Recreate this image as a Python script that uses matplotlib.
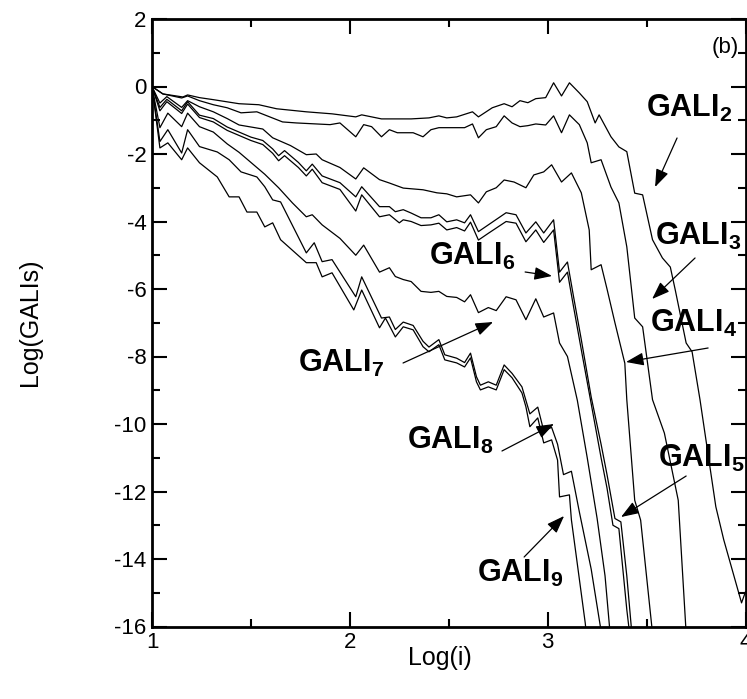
import matplotlib.pyplot as plt
from matplotlib.ticker import MultipleLocator

plt.rcParams['font.family'] = ['Liberation Sans', 'DejaVu Sans']
plt.rcParams['mathtext.fontset'] = 'custom'
plt.rcParams['mathtext.rm'] = 'Liberation Sans'
plt.rcParams['mathtext.bf'] = 'Liberation Sans:bold'
plt.rcParams['axes.unicode_minus'] = False

# log10(GALI_k) against log10(i)
gali2_x = [1.00, 1.055, 1.156, 1.18, 1.24, 1.31, 1.44, 1.54, 1.63, 1.78, 1.91, 2.03, 2.06, 2.16, 2.31,
           2.40, 2.45, 2.49, 2.54, 2.62, 2.65, 2.72, 2.78, 2.82, 2.86, 2.90, 2.94, 2.99, 3.03, 3.07,
           3.11, 3.16, 3.20, 3.24, 3.26, 3.32, 3.36, 3.40, 3.44, 3.48, 3.53, 3.58, 3.62, 3.645, 3.70,
           3.73, 3.77, 3.85, 3.89, 3.98, 4.00]
gali2_y = [0.0, -0.22, -0.31, -0.25, -0.33, -0.39, -0.51, -0.54, -0.66, -0.75, -0.81, -0.90, -0.84, -0.96, -0.96,
           -0.93, -0.87, -0.93, -0.90, -0.75, -0.90, -0.63, -0.51, -0.60, -0.42, -0.48, -0.36, -0.33, 0.11, -0.28,
           0.11, -0.19, -0.45, -1.08, -0.84, -1.49, -1.79, -1.93, -3.16, -3.21, -4.54, -5.08, -5.35, -6.03, -7.60,
           -7.86, -9.28, -12.45, -13.43, -15.30, -14.97]

gali3_x = [1.00, 1.055, 1.15, 1.18, 1.24, 1.31, 1.38, 1.45, 1.53, 1.66, 1.73, 1.90, 1.95, 2.03, 2.07,
           2.11, 2.16, 2.20, 2.24, 2.32, 2.37, 2.41, 2.45, 2.58, 2.62, 2.65, 2.69, 2.74, 2.78, 2.82,
           2.86, 2.90, 2.94, 2.99, 3.03, 3.07, 3.11, 3.16, 3.20, 3.22, 3.27, 3.32, 3.36, 3.40, 3.44,
           3.48, 3.53, 3.59, 3.66, 3.70]
gali3_y = [0.0, -0.22, -0.34, -0.28, -0.42, -0.54, -0.63, -0.78, -0.75, -1.05, -1.08, -1.13, -1.08, -1.49, -1.13,
           -1.19, -1.49, -1.28, -1.37, -1.37, -1.49, -1.28, -1.22, -1.22, -1.11, -1.52, -1.28, -1.19, -0.87, -1.08,
           -1.19, -1.16, -1.11, -1.14, -0.87, -1.37, -0.84, -1.13, -1.67, -2.26, -2.17, -2.98, -3.45, -4.75, -6.86,
           -7.12, -9.28, -10.27, -12.26, -16.2]

gali4_x = [1.00, 1.04, 1.075, 1.15, 1.18, 1.24, 1.31, 1.38, 1.44, 1.50, 1.56, 1.61, 1.70, 1.78, 1.83,
           1.86, 1.95, 2.03, 2.07, 2.15, 2.20, 2.27, 2.37, 2.44, 2.49, 2.54, 2.61, 2.65, 2.69, 2.74,
           2.78, 2.83, 2.89, 2.93, 2.98, 3.02, 3.07, 3.12, 3.17, 3.21, 3.22, 3.27, 3.30, 3.34, 3.39,
           3.40, 3.44, 3.47, 3.53]
gali4_y = [0.0, -0.49, -0.30, -0.62, -0.42, -0.60, -0.75, -0.95, -1.14, -1.20, -1.26, -1.52, -1.75, -2.02, -2.00,
           -2.17, -2.40, -2.74, -2.41, -2.76, -2.86, -3.01, -3.06, -3.15, -3.18, -3.27, -3.21, -3.45, -3.12, -3.00,
           -2.77, -2.83, -3.00, -2.62, -2.53, -2.32, -2.83, -2.56, -3.15, -4.25, -5.43, -5.28, -6.00, -7.00, -8.20,
           -9.28, -12.26, -12.85, -16.2]

gali5_x = [1.00, 1.04, 1.075, 1.15, 1.18, 1.24, 1.31, 1.38, 1.44, 1.50, 1.56, 1.61, 1.64, 1.67, 1.74,
           1.78, 1.81, 1.86, 1.95, 2.03, 2.06, 2.15, 2.20, 2.23, 2.27, 2.31, 2.36, 2.41, 2.45, 2.49,
           2.54, 2.58, 2.61, 2.65, 2.70, 2.79, 2.84, 2.89, 2.94, 2.98, 3.03, 3.06, 3.10, 3.13, 3.17,
           3.22, 3.27, 3.30, 3.34, 3.37, 3.40, 3.43]
gali5_y = [0.0, -0.62, -0.38, -0.72, -0.45, -0.85, -0.95, -1.20, -1.35, -1.50, -1.60, -1.85, -2.05, -1.90, -2.25,
           -2.50, -2.30, -2.65, -2.85, -3.27, -2.97, -3.56, -3.56, -3.71, -3.65, -3.75, -3.89, -3.89, -3.80, -4.01,
           -3.95, -4.04, -3.80, -4.30, -4.10, -3.74, -3.80, -4.34, -4.01, -4.34, -3.95, -5.50, -5.20, -6.20, -7.50,
           -9.20, -10.60, -11.50, -12.80, -12.90, -14.50, -16.5]

gali6_x = [1.00, 1.04, 1.075, 1.15, 1.18, 1.24, 1.31, 1.38, 1.44, 1.50, 1.56, 1.61, 1.64, 1.67, 1.74,
           1.78, 1.81, 1.86, 1.95, 2.03, 2.06, 2.15, 2.20, 2.25, 2.27, 2.31, 2.36, 2.41, 2.45, 2.49,
           2.54, 2.58, 2.61, 2.65, 2.70, 2.79, 2.84, 2.89, 2.94, 2.98, 3.03, 3.06, 3.10, 3.13, 3.17,
           3.22, 3.27, 3.30, 3.33, 3.36, 3.40, 3.42]
gali6_y = [0.0, -0.72, -0.45, -0.80, -0.52, -0.92, -1.05, -1.30, -1.45, -1.60, -1.72, -1.98, -2.20, -2.05, -2.40,
           -2.65, -2.45, -2.85, -3.05, -3.69, -3.21, -3.86, -3.80, -4.04, -3.95, -4.00, -4.12, -4.10, -4.05, -4.25,
           -4.18, -4.28, -4.02, -4.55, -4.35, -4.00, -4.05, -4.60, -4.25, -4.62, -4.25, -5.80, -5.50, -6.50, -7.80,
           -9.40, -11.00, -11.90, -13.00, -13.10, -15.50, -16.5]

gali7_x = [1.00, 1.04, 1.08, 1.15, 1.18, 1.24, 1.31, 1.38, 1.44, 1.50, 1.57, 1.64, 1.71, 1.78, 1.81,
           1.86, 1.95, 2.03, 2.07, 2.15, 2.20, 2.23, 2.27, 2.31, 2.36, 2.41, 2.45, 2.49, 2.54, 2.58,
           2.61, 2.65, 2.70, 2.74, 2.79, 2.84, 2.89, 2.94, 2.98, 3.03, 3.06, 3.10, 3.15, 3.20, 3.25,
           3.29, 3.32]
gali7_y = [0.0, -1.22, -0.79, -1.19, -0.79, -1.19, -1.35, -1.70, -1.95, -2.25, -2.60, -3.00, -3.45, -3.86, -3.80,
           -4.10, -4.50, -5.00, -4.70, -5.50, -5.37, -5.63, -5.72, -5.78, -6.07, -6.10, -6.07, -6.22, -6.25, -6.38,
           -6.17, -6.70, -6.55, -6.64, -6.23, -6.32, -6.91, -6.29, -6.83, -6.71, -7.60, -8.00, -9.30, -11.00, -12.80,
           -14.50, -16.5]

gali8_x = [1.00, 1.04, 1.08, 1.15, 1.18, 1.24, 1.33, 1.39, 1.45, 1.53, 1.57, 1.61, 1.65, 1.78, 1.82,
           1.86, 1.91, 2.03, 2.06, 2.16, 2.20, 2.23, 2.27, 2.32, 2.37, 2.40, 2.45, 2.48, 2.54, 2.58,
           2.61, 2.64, 2.66, 2.70, 2.74, 2.78, 2.82, 2.87, 2.91, 2.95, 2.98, 3.02, 3.05, 3.08, 3.12,
           3.16, 3.22, 3.28]
gali8_y = [0.0, -1.63, -1.28, -1.97, -1.28, -1.78, -1.94, -2.17, -2.53, -2.68, -2.97, -3.36, -3.42, -4.93, -4.63,
           -5.19, -5.13, -6.23, -5.64, -6.86, -6.83, -7.20, -6.98, -7.08, -7.55, -7.72, -7.50, -7.95, -8.05, -8.18,
           -7.90, -8.60, -8.85, -8.75, -8.85, -8.25, -8.50, -8.90, -9.70, -9.50, -10.20, -10.10, -10.60, -11.50, -11.40,
           -12.60, -14.30, -16.5]

gali9_x = [1.00, 1.04, 1.08, 1.15, 1.18, 1.24, 1.33, 1.39, 1.44, 1.48, 1.53, 1.57, 1.61, 1.65, 1.78,
           1.83, 1.86, 1.91, 2.02, 2.06, 2.15, 2.18, 2.23, 2.27, 2.32, 2.37, 2.40, 2.45, 2.48, 2.54,
           2.58, 2.61, 2.64, 2.66, 2.70, 2.74, 2.78, 2.82, 2.87, 2.89, 2.91, 2.95, 2.98, 3.02, 3.05,
           3.06, 3.11, 3.12, 3.19, 3.20]
gali9_y = [0.0, -1.82, -1.67, -2.17, -1.82, -2.26, -2.68, -3.27, -3.27, -3.72, -3.72, -4.16, -4.04, -4.54, -5.22,
           -5.22, -5.64, -5.52, -6.62, -6.03, -7.15, -6.86, -7.42, -7.12, -7.21, -7.71, -7.86, -7.65, -8.10, -8.19,
           -8.31, -8.04, -8.75, -8.99, -8.90, -8.99, -8.39, -8.63, -9.08, -9.49, -10.08, -9.82, -10.56, -10.47, -11.07,
           -12.16, -12.10, -12.84, -15.90, -16.5]

series = [(gali2_x, gali2_y), (gali3_x, gali3_y), (gali4_x, gali4_y), (gali5_x, gali5_y),
          (gali6_x, gali6_y), (gali7_x, gali7_y), (gali8_x, gali8_y), (gali9_x, gali9_y)]

# label text position (left, baseline) and arrow tail -> tip, in data units
labels = [
    (r'$\mathbf{GALI_2}$', (3.497, -0.907), (3.654, -1.526), (3.543, -2.978)),
    (r'$\mathbf{GALI_3}$', (3.543, -4.696), (3.745, -5.081), (3.528, -6.296)),
    (r'$\mathbf{GALI_4}$', (3.518, -7.274), (3.811, -7.748), (3.396, -8.163)),
    (r'$\mathbf{GALI_5}$', (3.558, -11.274), (3.700, -11.541), (3.371, -12.756)),
    (r'$\mathbf{GALI_6}$', (2.400, -5.289), (2.886, -5.496), (3.022, -5.615)),
    (r'$\mathbf{GALI_7}$', (1.738, -8.459), (2.269, -8.193), (2.724, -6.978)),
    (r'$\mathbf{GALI_8}$', (2.289, -10.741), (2.769, -10.800), (3.032, -10.000)),
    (r'$\mathbf{GALI_9}$', (2.643, -14.681), (2.881, -13.941), (3.083, -12.726)),
]

fig = plt.figure(figsize=(7.47, 6.99), dpi=100)
ax = fig.add_axes([152 / 747, 72.5 / 699, 593.5 / 747, 607.5 / 699])

for xs, ys in series:
    ax.plot(xs, ys, color='black', lw=0.9)

for text, pos, tail, tip in labels:
    ax.text(pos[0], pos[1], text, fontsize=22, ha='left', va='baseline', clip_on=False)
    ax.annotate('', xy=tip, xytext=tail,
                arrowprops=dict(arrowstyle='-|>,head_length=0.6,head_width=0.22', color='black',
                                lw=0.9, shrinkA=0, shrinkB=0, mutation_scale=18))

ax.text(3.965, 1.17, '(b)', fontsize=16, ha='right', va='center')

ax.set_xlim(1, 4)
ax.set_ylim(-16, 2)
ax.xaxis.set_major_locator(MultipleLocator(1))
ax.xaxis.set_minor_locator(MultipleLocator(0.5))
ax.yaxis.set_major_locator(MultipleLocator(2))
ax.yaxis.set_minor_locator(MultipleLocator(1))
ax.tick_params(which='both', direction='in', top=True, right=True, width=1.5, labelsize=16)
ax.tick_params(which='major', length=11, pad=4)
ax.tick_params(which='minor', length=6)
for sp in ax.spines.values():
    sp.set_linewidth(2)

ax.set_xlabel('Log(i)', fontsize=18)
ax.xaxis.set_label_coords(0.485, -0.032)
ax.set_ylabel('Log(GALIs)', fontsize=18)
ax.yaxis.set_label_coords(-0.185, 0.5)

fig.savefig('out.png', dpi=100)
